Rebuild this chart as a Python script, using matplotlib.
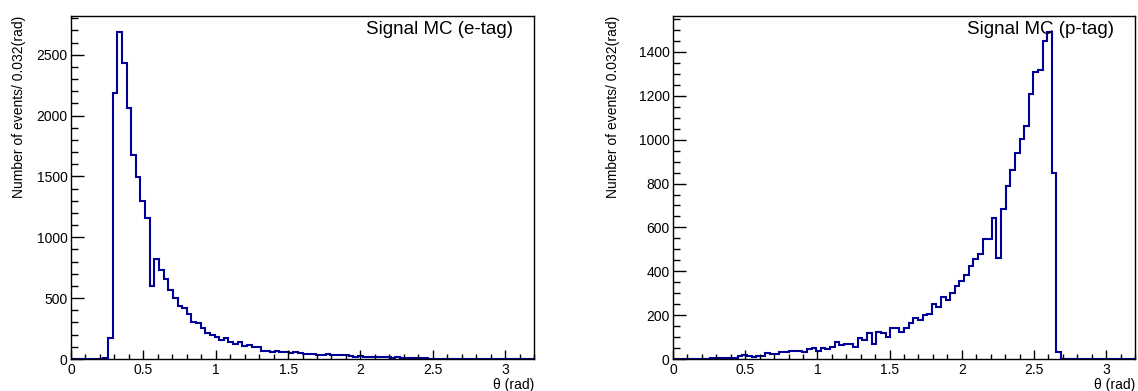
import numpy as np
import matplotlib
matplotlib.use("Agg")
import matplotlib.pyplot as plt
from matplotlib.ticker import MultipleLocator

plt.rcParams["font.family"] = ["Liberation Sans", "DejaVu Sans"]

# 100 bins of 0.032 rad from 0 to 3.2
bin_edges = np.linspace(0, 3.2, 101)

# e-tag counts per bin
etag_counts = [0, 0, 0, 0, 0, 0, 3, 12, 172, 2186,
               2683, 2432, 2063, 1675, 1494, 1295, 1158, 601, 825, 729,
               656, 568, 505, 432, 421, 369, 302, 294, 252, 216,
               197, 178, 160, 169, 137, 124, 137, 110, 117, 102,
               96, 63, 63, 60, 62, 58, 55, 46, 55, 46,
               38, 44, 38, 33, 36, 38, 34, 36, 33, 30,
               27, 19, 22, 20, 18, 17, 15, 16, 13, 12,
               14, 11, 10, 9, 10, 8, 6, 4, 0, 0,
               0, 0, 0, 0, 0, 0, 0, 0, 0, 0,
               0, 0, 0, 0, 0, 0, 0, 0, 0, 0]

# p-tag counts per bin
ptag_counts = [0, 0, 0, 0, 0, 0, 0, 0, 3, 5,
               5, 6, 5, 6, 15, 18, 15, 9, 15, 15,
               26, 21, 23, 30, 33, 38, 38, 38, 33, 47,
               52, 38, 52, 47, 56, 76, 62, 68, 70, 56,
               94, 87, 120, 67, 123, 117, 102, 140, 140, 125,
               140, 166, 188, 178, 200, 205, 250, 235, 284, 269,
               299, 333, 357, 383, 425, 457, 481, 545, 545, 644,
               462, 686, 788, 863, 940, 1004, 1061, 1207, 1309, 1317,
               1450, 1489, 846, 30, 0, 0, 0, 0, 0, 0,
               0, 0, 0, 0, 0, 0, 0, 0, 0, 0]

titles = ["Signal MC (e-tag)", "Signal MC (p-tag)"]
ylabel = "Number of events/ 0.032(rad)"
xlabel = "\u03b8 (rad)"

fig = plt.figure(figsize=(11.38, 3.91), dpi=100)
ax1 = fig.add_axes([0.0624, 0.0818, 0.4069, 0.877])
ax2 = fig.add_axes([0.5914, 0.0818, 0.406, 0.877])

panels = [(ax1, etag_counts, 500, 100, -0.112), (ax2, ptag_counts, 200, 50, -0.13)]
for i, (ax, counts, ymaj, ymin, labx) in enumerate(panels):
    ax.stairs(counts, bin_edges, color="#000099", lw=1.5)
    ax.set_xlim(0, 3.2)
    ax.set_ylim(0, 1.05 * max(counts))
    ax.xaxis.set_major_locator(MultipleLocator(0.5))
    ax.xaxis.set_minor_locator(MultipleLocator(0.1))
    ax.yaxis.set_major_locator(MultipleLocator(ymaj))
    ax.yaxis.set_minor_locator(MultipleLocator(ymin))
    ax.xaxis.set_major_formatter(plt.FuncFormatter(lambda v, p: "%g" % v))
    ax.tick_params(axis="x", which="major", direction="in", length=6.5, width=1, labelsize=10, pad=3)
    ax.tick_params(axis="x", which="minor", direction="in", length=3.3, width=1)
    ax.tick_params(axis="y", which="major", direction="in", length=9.4, width=1, labelsize=10, pad=2.5)
    ax.tick_params(axis="y", which="minor", direction="in", length=5, width=1)
    for s in ax.spines.values():
        s.set_linewidth(1.0)
    ax.set_ylabel(ylabel, fontsize=10, ha="right", va="center")
    ax.yaxis.set_label_coords(labx, 1.0)
    ax.text(1.0, -0.055, xlabel, transform=ax.transAxes, ha="right", va="top", fontsize=10)
    ax.text(0.955, 0.962, titles[i], transform=ax.transAxes, ha="right", va="center", fontsize=13.5)

fig.savefig("out.png", dpi=100)
